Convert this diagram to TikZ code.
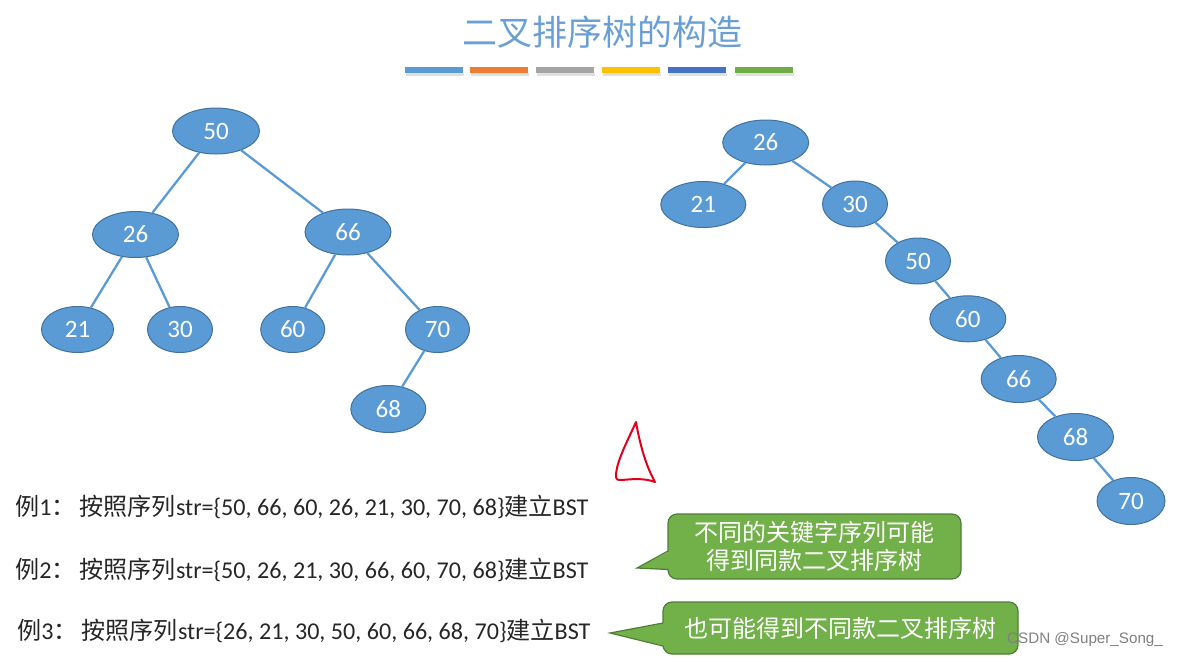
\documentclass[tikz,border=0pt]{standalone}
\usepackage{fontspec}
\setmainfont{Carlito}
\newfontfamily\cjk{Noto Sans CJK SC}
\newfontfamily\wmfont{Liberation Sans}
\usetikzlibrary{shapes.geometric}
\definecolor{nodeblue}{HTML}{5B9BD5}
\definecolor{nodeborder}{HTML}{41719C}
\definecolor{titleblue}{HTML}{6A9FD4}
\definecolor{barA}{HTML}{5B9BD5}
\definecolor{barB}{HTML}{ED7D31}
\definecolor{barC}{HTML}{A5A5A5}
\definecolor{barD}{HTML}{FFC000}
\definecolor{barE}{HTML}{4472C4}
\definecolor{barF}{HTML}{70AD47}
\definecolor{callgreen}{HTML}{72B04A}
\definecolor{callborder}{HTML}{4E7E35}
\definecolor{scribble}{HTML}{E0001B}
\definecolor{textgray}{HTML}{262626}
\begin{document}
\begin{tikzpicture}[x=1pt,y=-1pt,
  bst/.style={ellipse, draw=nodeborder, fill=nodeblue, line width=1pt, text=white,
    font=\fontsize{25}{25}\selectfont, inner sep=0pt, minimum height=46pt},
  edge/.style={draw=nodeblue, line width=2.3pt},
  extext/.style={anchor=west, text=textgray, font=\fontsize{24.1}{26}\selectfont, inner sep=0pt},
  callout/.style={rectangle, rounded corners=9pt, fill=callgreen, draw=callborder, line width=1.2pt,
    text=white, align=center, font=\cjk\fontsize{24}{27.5}\selectfont, inner sep=0pt},
  bar/.style={inner sep=0pt, minimum width=58pt, minimum height=6.5pt}
]
\useasboundingbox (0,0) rectangle (1185,661);

% title
\node[text=titleblue, font=\cjk\fontsize{35}{35}\selectfont] (title) at (602,32) {二叉排序树的构造};

% colour bars
\foreach \x/\c [count=\i] in {434/barA,498.5/barB,565/barC,631/barD,696.5/barE,763.5/barF}{
  \fill[black, opacity=0.12] (\x-29+1,72.5) rectangle (\x+29+1,75.5);
  \node[bar, fill=\c] (bar\i) at (\x,70) {};
}

% left tree
\node[bst, minimum width=87pt] (L50) at (216,131) {50};
\node[bst, minimum width=86pt] (L26) at (135.5,234.5) {26};
\node[bst, minimum width=86pt] (L66) at (348,232) {66};
\node[bst, minimum width=72pt] (L21) at (77.5,329.5) {21};
\node[bst, minimum width=65pt] (L30) at (180,329.5) {30};
\node[bst, minimum width=64pt] (L60) at (292.7,329.5) {60};
\node[bst, minimum width=64pt] (L70) at (437.5,329.5) {70};
\node[bst, minimum width=75pt, minimum height=47pt] (L68) at (388.3,409) {68};
\draw[edge] (L50) -- (L26);
\draw[edge] (L50) -- (L66);
\draw[edge] (L26) -- (L21);
\draw[edge] (L26) -- (L30);
\draw[edge] (L66) -- (L60);
\draw[edge] (L66) -- (L70);
\draw[edge] (L70) -- (L68);

% right tree
\node[bst, minimum width=86pt, minimum height=45pt] (R26) at (765.7,142.5) {26};
\node[bst, minimum width=85pt] (R21) at (703.3,204.5) {21};
\node[bst, minimum width=65pt] (R30) at (855,204) {30};
\node[bst, minimum width=65pt] (R50) at (918,261) {50};
\node[bst, minimum width=76pt] (R60) at (967.8,318.8) {60};
\node[bst, minimum width=75pt, minimum height=47pt] (R66) at (1018.7,379) {66};
\node[bst, minimum width=76pt, minimum height=47pt] (R68) at (1075.5,437) {68};
\node[bst, minimum width=68pt, minimum height=47pt] (R70) at (1131,501) {70};
\draw[edge] (R26) -- (R21);
\draw[edge] (R26) -- (R30);
\draw[edge] (R30) -- (R50);
\draw[edge] (R50) -- (R60);
\draw[edge] (R60) -- (R66);
\draw[edge] (R66) -- (R68);
\draw[edge] (R68) -- (R70);

% examples
\node[extext] (ex1) at (15,507) {{\cjk 例}1{\cjk ：\,按照序列}str=\{50, 66, 60, 26, 21, 30, 70, 68\}{\cjk 建立}BST};
\node[extext] (ex2) at (15,570) {{\cjk 例}2{\cjk ：\,按照序列}str=\{50, 26, 21, 30, 66, 60, 70, 68\}{\cjk 建立}BST};
\node[extext] (ex3) at (17,631) {{\cjk 例}3{\cjk ：\,按照序列}str=\{26, 21, 30, 50, 60, 66, 68, 70\}{\cjk 建立}BST};

% red scribble
\draw[scribble, line width=2pt, line join=round, line cap=round]
  (636,422) .. controls (628,440) and (616,462) .. (616,476)
  .. controls (616,480) and (618,480) .. (622,480)
  .. controls (632,479) and (645,478) .. (655,482)
  .. controls (646,466) and (640,445) .. (636,422);

% callout 1
\node[callout, minimum width=293pt, minimum height=65pt] (call1) at (814.5,546.5)
  {不同的关键字序列可能\\得到同款二叉排序树};
\coordinate (tip1) at (637,568);
\fill[callgreen] (670,551) -- (tip1) -- (670,569.5) -- cycle;
\draw[callborder, line width=1.2pt, line join=miter] (668,551) -- (tip1) -- (668,569.5);

% callout 2
\node[callout, minimum width=355pt, minimum height=52pt] (call2) at (840.5,628)
  {也可能得到不同款二叉排序树};
\coordinate (tip2) at (610,633);
\fill[callgreen] (665,623) -- (tip2) -- (665,646) -- cycle;
\draw[callborder, line width=1.2pt, line join=miter] (663,623) -- (tip2) -- (663,646);

% watermark
\node[anchor=west, text=black!50, font=\wmfont\fontsize{15.2}{16}\selectfont, inner sep=0pt] (wm) at (1007,640) {CSDN @Super\_Song\_};
\end{tikzpicture}
\end{document}
